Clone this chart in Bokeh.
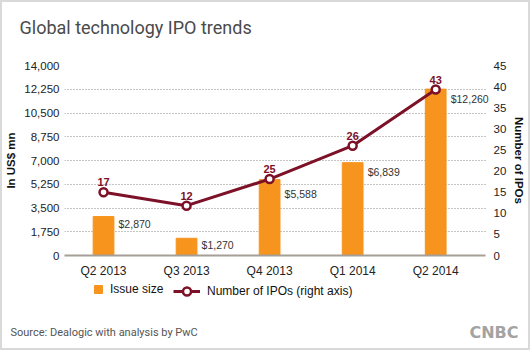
from bokeh.plotting import figure
from bokeh.layouts import column, row
from bokeh.models import (Range1d, LinearAxis, FixedTicker, NumeralTickFormatter,
                          Legend, LegendItem, Label, ColumnDataSource)
from bokeh.embed import file_html
from bokeh.resources import INLINE
from bokeh.core.properties import value

# ---- data ----
categories = ["Q2 2013", "Q3 2013", "Q4 2013", "Q1 2014", "Q2 2014"]
issue_size = [2870, 1270, 5588, 6839, 12260]
issue_labels = ["$2,870", "$1,270", "$5,588", "$6,839", "$12,260"]
ipo_labels = ["17", "12", "25", "26", "43"]
ipo_plotted = [15.0, 11.8, 18.1, 26.0, 39.3]   # positions as drawn in the original
left_ticks = [0, 1750, 3500, 5250, 7000, 8750, 10500, 12250, 14000]
right_ticks = [0, 5, 10, 15, 20, 25, 30, 35, 40, 45]

# ---- styles ----
ORANGE = "#f7941e"
MAROON = "#7d1128"
FONT = "Liberation Sans"
value_dy = [1, 1, 8, 3, 4]
W = 526


def blank_fig(h):
    f = figure(width=W, height=h, output_backend="svg", toolbar_location=None,
               x_range=Range1d(0, W), y_range=Range1d(0, h),
               x_axis_location=None, y_axis_location=None,
               min_border_left=0, min_border_right=0, min_border_top=0,
               min_border_bottom=0, outline_line_color=None,
               background_fill_color="white", border_fill_color="white")
    f.grid.visible = False
    return f


# ---- top (title) ----
top = blank_fig(53)
top.add_layout(Label(x=17, y=28, x_units="screen", y_units="screen",
                     text="Global technology IPO trends", text_font="Roboto",
                     text_font_size="18px", text_color="#4a4a4a",
                     text_baseline="alphabetic"))

# ---- main chart ----
xs = list(range(len(categories)))
src = ColumnDataSource(dict(x=xs, size=issue_size, slab=issue_labels,
                            ipo=ipo_plotted, ilab=ipo_labels, dy=value_dy))

p = figure(width=W, height=225, output_backend="svg", toolbar_location=None,
           x_range=Range1d(-0.47, 4.66), y_range=Range1d(0, 14000),
           min_border_left=61, min_border_right=36, min_border_top=10,
           min_border_bottom=24, outline_line_color=None,
           background_fill_color="white", border_fill_color="white")
p.extra_y_ranges = {"ipo": Range1d(0, 45)}

p.xgrid.grid_line_color = None
p.ygrid.ticker = FixedTicker(ticks=left_ticks)
p.ygrid.grid_line_color = "#8a8a8a"
p.ygrid.grid_line_dash = "1 2"
p.ygrid.grid_line_width = 1
try:
    p.ygrid.cross_bounds = (-0.51, 4.6)
except Exception:
    pass

p.xaxis.ticker = FixedTicker(ticks=xs)
p.xaxis.major_label_overrides = {i: c for i, c in zip(xs, categories)}
p.xaxis.bounds = (-0.47, 4.6)
p.xaxis.axis_line_color = "#a69f98"
p.xaxis.axis_line_width = 2
p.xaxis.major_tick_line_color = None
p.xaxis.minor_tick_line_color = None
p.xaxis.major_tick_out = 0
p.xaxis.major_label_standoff = 8
p.xaxis.major_label_text_font = FONT
p.xaxis.major_label_text_font_size = "12px"
p.xaxis.major_label_text_color = "#222222"

p.yaxis.ticker = FixedTicker(ticks=left_ticks)
p.yaxis.formatter = NumeralTickFormatter(format="0,0")
p.yaxis.axis_line_color = None
p.yaxis.major_tick_line_color = None
p.yaxis.minor_tick_line_color = None
p.yaxis.major_tick_out = 0
p.yaxis.major_label_standoff = 5
p.yaxis.major_label_text_font = FONT
p.yaxis.major_label_text_font_size = "11.5px"
p.yaxis.major_label_text_color = "#222222"
p.yaxis.axis_label = "In US$ mn"
p.yaxis.axis_label_text_font = FONT
p.yaxis.axis_label_text_font_style = "bold"
p.yaxis.axis_label_text_font_size = "11.5px"
p.yaxis.axis_label_text_color = "#111111"
p.yaxis.axis_label_standoff = 4

ra = LinearAxis(y_range_name="ipo", ticker=FixedTicker(ticks=right_ticks),
                axis_label="Number of IPOs")
ra.axis_line_color = None
ra.major_tick_line_color = None
ra.minor_tick_line_color = None
ra.major_tick_out = 0
ra.major_label_standoff = 3
ra.major_label_text_font = FONT
ra.major_label_text_font_size = "11.5px"
ra.major_label_text_color = "#222222"
ra.axis_label_text_font = FONT
ra.axis_label_text_font_style = "bold"
ra.axis_label_text_font_size = "11.5px"
ra.axis_label_text_color = "#111111"
ra.axis_label_standoff = 4
p.add_layout(ra, "right")

p.vbar(x="x", top="size", width=0.25, bottom=0, source=src,
       fill_color=ORANGE, line_color=ORANGE)
p.text(x="x", y="size", text="slab", source=src, x_offset=15, y_offset="dy",
       text_font=value(FONT), text_font_size="10.5px", text_color="#333333",
       text_baseline="top", text_align="left")

p.line(x="x", y="ipo", source=src, y_range_name="ipo",
       line_color=MAROON, line_width=3)
p.scatter(x="x", y="ipo", source=src, y_range_name="ipo", size=8,
          fill_color="white", line_color=MAROON, line_width=2.5)
p.text(x="x", y="ipo", text="ilab", source=src, y_range_name="ipo",
       y_offset=-10, text_font=value(FONT), text_font_style="bold",
       text_font_size="11px", text_color=MAROON, text_align="center",
       text_baseline="alphabetic")

# ---- bottom (legend, source, logo) ----
bot = blank_fig(68)
nan = float("nan")
dummy = ColumnDataSource(dict(x=[nan], y=[nan]))
r_bar = bot.vbar(x="x", top="y", width=1, source=dummy,
                 fill_color=ORANGE, line_color=ORANGE)
r_ln = bot.line(x="x", y="y", source=dummy, line_color=MAROON, line_width=3)
r_sc = bot.scatter(x="x", y="y", source=dummy, size=8, fill_color="white",
                   line_color=MAROON, line_width=2.5)
leg1 = Legend(items=[LegendItem(label="Issue size", renderers=[r_bar])],
              location=(91, 52), orientation="horizontal",
              glyph_width=10, glyph_height=10, label_height=10,
              label_standoff=7, padding=0, margin=0, spacing=0,
              border_line_color=None, background_fill_alpha=0,
              label_text_font=FONT, label_text_font_size="12px",
              label_text_color="#111111")
leg2 = Legend(items=[LegendItem(label="Number of IPOs (right axis)",
                                renderers=[r_ln, r_sc])],
              location=(171, 47), orientation="horizontal",
              glyph_width=27, glyph_height=20, label_height=20,
              label_standoff=7, padding=0, margin=0, spacing=0,
              border_line_color=None, background_fill_alpha=0,
              label_text_font=FONT, label_text_font_size="12px",
              label_text_color="#111111")
bot.add_layout(leg1, "center")
bot.add_layout(leg2, "center")
bot.add_layout(Label(x=8, y=16, x_units="screen", y_units="screen",
                     text="Source: Dealogic with analysis by PwC", text_font="Roboto",
                     text_font_size="11px", text_color="#555555",
                     text_baseline="alphabetic"))
bot.add_layout(Label(x=516, y=16, x_units="screen", y_units="screen",
                     text="CNBC", text_font="DejaVu Sans", text_font_style="bold",
                     text_font_size="16px", text_color="#a3a3a3",
                     text_align="right", text_baseline="alphabetic"))

layout = column(row(top), p, row(bot), spacing=0)
layout.styles = {"border": "2px solid #d9d9d9"}

open("out.html", "w").write(file_html(layout, INLINE))
